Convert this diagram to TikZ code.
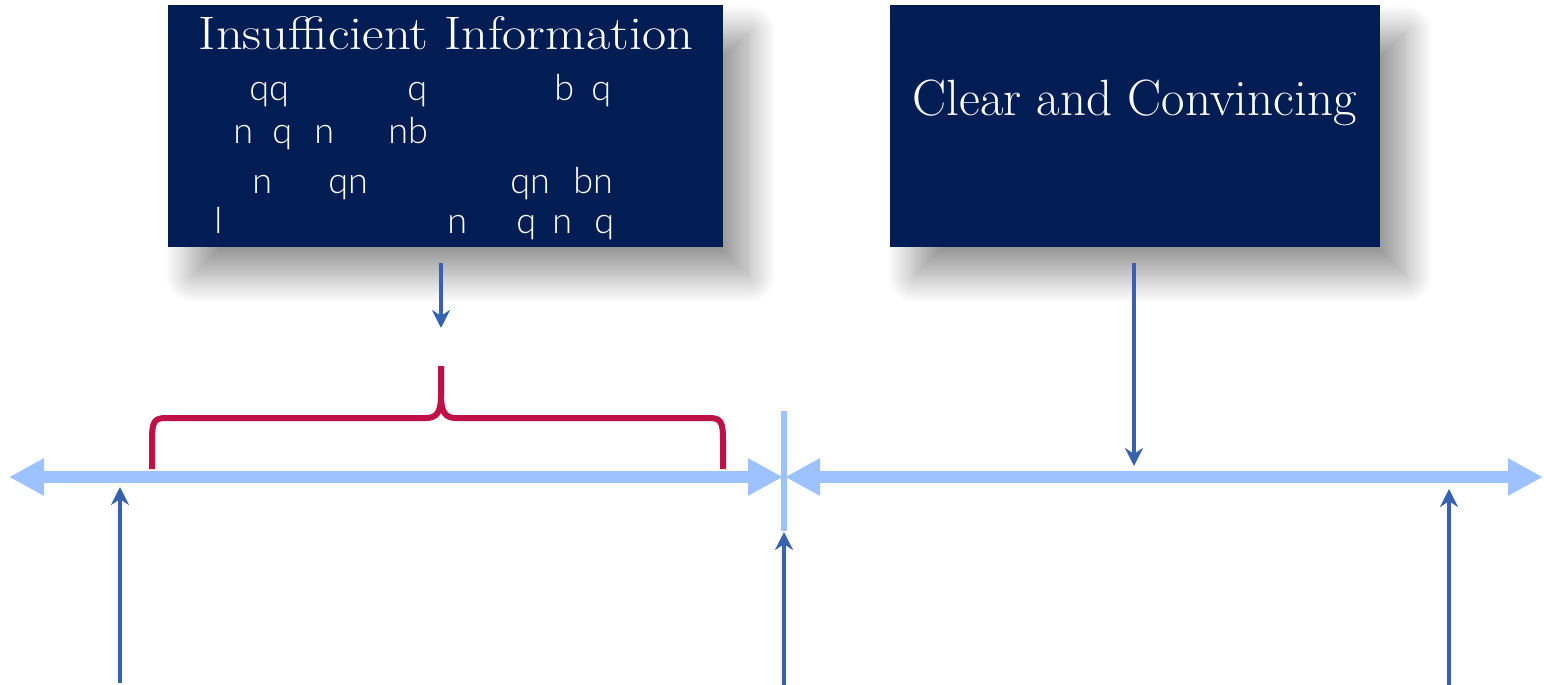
\documentclass[tikz,border=0pt]{standalone}
\usepackage{fontspec}
\newfontfamily\bodyfont{Lato Light}
\usetikzlibrary{arrows.meta,shadows.blur}
\definecolor{navy}{RGB}{2,29,84}
\definecolor{lineblue}{RGB}{157,194,255}
\definecolor{arrowblue}{RGB}{55,99,174}
\definecolor{bracered}{RGB}{192,16,72}
\begin{document}
\begin{tikzpicture}[x=0.5pt,y=-0.5pt,
  box/.style={fill=navy, draw=none, minimum height=121pt, inner sep=0pt,
    blur shadow={shadow xshift=12.5pt, shadow yshift=-14pt, shadow blur radius=14pt, shadow blur steps=20, shadow opacity=42}},
  boxtitle/.style={text=white, anchor=base, inner sep=0pt},
  frag/.style={text=white, font=\bodyfont\fontsize{18}{20}\selectfont, anchor=base west, inner sep=0pt},
  ptr/.style={draw=arrowblue, line width=2.2pt, -{Stealth[length=9pt,width=9pt]}},
  tl/.style={draw=lineblue, line width=6pt, {Triangle[length=17.5pt,width=17.5pt]}-{Triangle[length=17.5pt,width=17.5pt]}},
  brace/.style={draw=bracered, line width=3pt, line join=round}
]
\useasboundingbox (0,0) rectangle (1544,685);

% boxes
\node[box, minimum width=277.5pt] (ib) at (445.5,126) {};
\node[box, minimum width=245pt] (cb) at (1135,126) {};
\node[boxtitle, font=\fontsize{23.5}{28}\selectfont] (ibt) at (446,49) {\scalebox{1.12}[1]{Insufficient Information}};
\node[boxtitle, font=\fontsize{25.5}{29}\selectfont] (cbt) at (1134.5,115) {Clear and Convincing};

% garbled text fragments
\node[frag] (f1) at (249,100) {qq};
\node[frag] (f2) at (407,100) {q};
\node[frag] (f3) at (554,100) {b};
\node[frag] (f4) at (591,100) {q};
\node[frag] (f5) at (233,143) {n};
\node[frag] (f6) at (272,143) {q};
\node[frag] (f7) at (314,143) {n};
\node[frag] (f8) at (388,143) {nb};
\node[frag] (f9) at (252,193) {n};
\node[frag] (f10) at (328,193) {qn};
\node[frag] (f11) at (510,193) {qn};
\node[frag] (f12) at (573,193) {bn};
\node[frag] (f13) at (214,233) {l};
\node[frag] (f14) at (447,233) {n};
\node[frag] (f15) at (516,233) {q};
\node[frag] (f16) at (552,233) {n};
\node[frag] (f17) at (594,233) {q};

% coordinates
\coordinate (tlL) at (9,477);
\coordinate (tlM1) at (783,477);
\coordinate (tlM2) at (785,477);
\coordinate (tlR) at (1543,477);
\coordinate (divT) at (784,411);
\coordinate (divB) at (784,531);
\coordinate (a1s) at (441,263);
\coordinate (a1e) at (441,328);
\coordinate (a2s) at (1134,263);
\coordinate (a2e) at (1134,466);
\coordinate (u1s) at (120,683);
\coordinate (u1e) at (120,487);
\coordinate (u2s) at (784,685);
\coordinate (u2e) at (784,532);
\coordinate (u3s) at (1449,685);
\coordinate (u3e) at (1449,489);

% divider and timeline
\draw[draw=lineblue, line width=3pt] (divT) -- (divB);
\draw[tl] (tlL) -- (tlM1);
\draw[tl] (tlM2) -- (tlR);

% brace
\draw[brace] (152,469) -- (152,440) .. controls (152,422) and (154,418) .. (166,418)
  -- (426,418) .. controls (437,418) and (441,412) .. (441,395) -- (441,366);
\draw[brace] (441,366) -- (441,395) .. controls (441,412) and (445,418) .. (456,418)
  -- (709,418) .. controls (721,418) and (723,422) .. (723,440) -- (723,469);

% pointer arrows
\draw[ptr] (a1s) -- (a1e);
\draw[ptr] (a2s) -- (a2e);
\draw[ptr] (u1s) -- (u1e);
\draw[ptr] (u2s) -- (u2e);
\draw[ptr] (u3s) -- (u3e);
\end{tikzpicture}
\end{document}
